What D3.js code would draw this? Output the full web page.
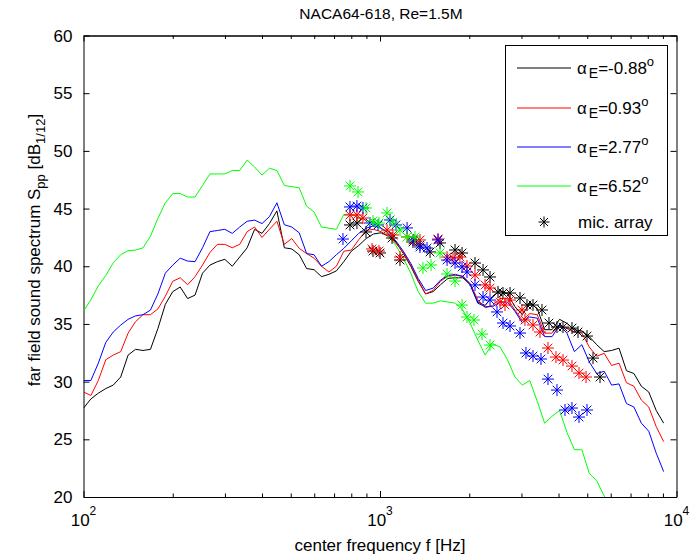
<!DOCTYPE html>
<html>
<head>
<meta charset="utf-8">
<script src="https://cdn.jsdelivr.net/npm/d3@7"></script>
<style>
body { margin: 0; background: #fff; }
text { font-family: "Liberation Sans", Arial, sans-serif; fill: #000; }
</style>
</head>
<body>
<div id="chart"></div>
<script>
// 1/12-octave band centre frequencies [Hz]
const freq = [100, 105.9, 112.2, 118.9, 126.0, 133.5, 141.4, 149.8, 158.7, 168.2,
  178.2, 188.8, 200, 211.9, 224.5, 237.8, 252.0, 267.0, 282.8, 299.7,
  317.5, 336.4, 356.4, 377.6, 400, 423.8, 449.0, 475.7, 504.0, 534.0,
  565.7, 599.3, 635.0, 672.7, 712.7, 755.1, 800, 847.6, 898.0, 951.4,
  1008, 1068, 1131, 1199, 1270, 1345, 1425, 1510, 1600, 1695,
  1796, 1903, 2016, 2136, 2263, 2397, 2540, 2691, 2851, 3020,
  3200, 3390, 3592, 3805, 4032, 4271, 4525, 4795, 5080, 5382,
  5702, 6041, 6400, 6781, 7184, 7611, 8063, 8543, 9051];

// far field spectra [dB], one per angle of attack
const sppM088 = [27.7, 28.5, 29.0, 29.4, 29.7, 30.4, 32.3, 32.8, 32.7, 32.8,
  34.6, 36.7, 37.8, 38.2, 37.2, 37.5, 39.4, 40.1, 40.4, 40.6,
  40.0, 40.8, 41.6, 43.2, 42.85, 43.7, 44.8, 41.6, 41.5, 41.0,
  39.8, 39.7, 39.1, 39.3, 39.6, 40.4, 41.3, 41.8, 42.4, 42.8,
  42.9, 42.6, 42.1, 41.1, 40.0, 38.7, 37.6, 37.8, 38.4, 38.95,
  39.0, 39.0, 38.4, 36.9, 36.6, 37.4, 37.9, 37.6, 36.5, 35.8,
  36.8, 36.35, 34.5, 34.5, 35.4, 35.05, 34.5, 34.4, 33.9, 33.2,
  32.6, 32.7, 32.9, 30.95, 30.7, 29.6, 29.1, 27.5, 26.4];
const spp093 = [29.1, 28.8, 30.1, 31.9, 32.3, 32.6, 34.2, 35.2, 35.8, 35.8,
  36.3, 37.4, 38.7, 39.0, 38.4, 39.1, 40.1, 41.2, 41.9, 41.9,
  41.6, 41.9, 43.0, 43.4, 42.5, 43.2, 43.9, 41.9, 42.4, 41.55,
  41.1, 40.7, 40.0, 39.5, 40.0, 41.3, 41.4, 42.3, 43.1, 43.2,
  43.0, 42.6, 42.0, 41.2, 40.1, 38.8, 37.6, 37.9, 38.7, 39.15,
  39.2, 39.15, 38.5, 37.1, 36.4, 36.6, 37.2, 37.2, 36.2, 35.3,
  35.9, 35.8, 34.2, 34.2, 34.9, 34.6, 34.3, 34.2, 33.0, 32.2,
  32.45, 31.4, 31.6, 29.9, 29.6, 28.4, 27.8, 26.1, 24.8];
const spp277 = [30.1, 30.1, 31.6, 33.4, 34.3, 34.9, 35.4, 35.7, 35.8, 36.2,
  37.6, 39.4, 40.1, 40.7, 40.45, 40.4, 41.6, 43.0, 43.1, 43.2,
  42.85, 43.4, 43.9, 44.0, 43.7, 44.3, 45.5, 43.6, 43.4, 42.9,
  41.1, 41.0, 40.0, 40.4, 41.0, 41.55, 42.2, 42.85, 43.3, 43.5,
  43.3, 42.9, 42.2, 41.3, 40.25, 38.95, 37.9, 38.1, 38.8, 39.2,
  39.3, 39.1, 38.4, 36.8, 36.5, 36.5, 36.9, 36.9, 36.1, 35.1,
  35.6, 35.5, 33.9, 33.9, 34.9, 34.2, 32.6, 33.2, 31.7, 30.7,
  30.9, 29.7, 29.8, 28.1, 27.8, 26.4, 25.7, 23.8, 22.2];
const spp652 = [36.1, 37.1, 38.3, 39.2, 40.3, 41.0, 41.35, 41.4, 41.6, 42.6,
  44.15, 45.5, 46.3, 46.3, 46.0, 46.0, 47.0, 48.0, 48.0, 48.0,
  48.3, 48.3, 49.2, 48.6, 47.9, 48.5, 48.3, 47.0, 46.9, 46.8,
  45.2, 44.7, 43.4, 43.3, 43.2, 44.5, 44.5, 44.2, 44.0, 43.7,
  43.3, 42.6, 41.8, 40.7, 39.4, 37.8, 36.8, 36.8, 37.0, 36.9,
  36.8, 36.2, 35.05, 33.6, 32.3, 33.3, 33.0, 31.9, 30.4, 29.7,
  30.1, 28.3, 26.4, 27.0, 27.5, 25.6, 24.1, 24.1, 22.05, 21.4,
  20.1, 19.0];

// microphone array results
const micFreqM088 = [792, 836, 897, 947, 1000, 1098, 1168, 1292, 1364, 1475, 1594, 1791, 1891,
  2091, 2226, 2350, 2500, 2599, 2745, 2966, 3131, 3281, 3518, 3715, 3953, 4142, 4441, 4654,
  4991, 5229, 5521];
const micM088 = [43.58, 43.75, 42.97, 41.32, 41.15, 42.45, 40.54, 42.10, 41.84, 41.24, 42.02, 41.41, 41.15,
  40.28, 39.68, 39.07, 37.77, 37.68, 37.68, 37.25, 36.64, 36.64, 36.21, 35.08, 34.73, 34.73, 34.64, 34.30,
  33.95, 32.04, 30.40];
const micFreq093 = [792, 836, 876, 940, 992, 1056, 1106, 1168, 1234, 1302, 1364, 1569, 1683, 1763,
  1861, 1965, 2091, 2261, 2350, 2540, 2640, 2745, 3012, 3083, 3281, 3464, 3686, 3922, 4142, 4441,
  4690, 4953];
const mic093 = [44.44, 44.44, 44.18, 41.50, 41.32, 43.14, 42.71, 40.80, 42.54, 42.28, 42.28, 42.36, 40.80, 40.71,
  40.80, 40.02, 39.24, 38.38, 38.11, 36.90, 36.64, 37.07, 36.21, 35.34, 34.91, 34.30, 32.91, 32.13, 31.87, 31.35,
  30.74, 30.40];
const micFreq277 = [750, 792, 836, 876, 925, 985, 1081, 1132, 1234, 1292, 1364, 1441, 1569, 1683,
  1791, 1891, 1965, 2091, 2226, 2350, 2481, 2599, 2745, 2966, 3107, 3281, 3491, 3686, 3953, 4207,
  4441, 4690, 4991];
const mic277 = [42.36, 45.14, 45.22, 45.05, 43.75, 43.58, 44.01, 43.58, 43.32, 42.28, 41.67, 41.58, 42.28, 40.54,
  40.28, 39.94, 39.50, 38.38, 37.33, 37.07, 36.04, 35.08, 34.82, 34.21, 32.48, 32.22, 31.96, 30.22, 29.27, 27.54,
  27.71, 26.93, 27.54];
const micFreq652 = [792, 843, 897, 947, 992, 1056, 1106, 1168, 1234, 1312, 1396, 1486, 1594, 1683,
  1791, 1891, 1965, 2075, 2208, 2350];
const mic652 = [46.96, 46.44, 45.05, 43.92, 43.75, 44.62, 43.83, 43.14, 42.54, 42.54, 39.85, 40.11, 41.15, 39.33,
  38.72, 36.64, 35.60, 35.34, 34.12, 33.17];

const legendLabels = ["-0.88", "0.93", "2.77", "6.52"];
const seriesColors = ["#000000", "#ff0000", "#0000ff", "#00ff00"];
const xMajor = [100, 1000, 10000];
const xExp = ["2", "3", "4"];
const yTicks = [20, 25, 30, 35, 40, 45, 50, 55, 60];

const W = 694, H = 556;
const L = 83.5, R = 676.5, T = 35.5, B = 497;
const fs = 17;

const svg = d3.select("#chart").append("svg")
  .attr("width", W).attr("height", H);

const x = d3.scaleLog().domain([100, 10000]).range([L, R]);
const y = d3.scaleLinear().domain([20, 60]).range([B, T]);

svg.append("defs").append("clipPath").attr("id", "clip")
  .append("rect").attr("x", L).attr("y", T).attr("width", R - L).attr("height", B - T);

// axes box with inward ticks
const xMinor = [];
[100, 1000].forEach(d => { for (let k = 2; k <= 9; k++) xMinor.push(d * k); });

function styleAxis(g) {
  g.selectAll("path, line").attr("stroke", "#000").attr("stroke-width", 1);
  g.selectAll("text").remove();
}

svg.append("g").attr("transform", `translate(0,${B})`)
  .call(d3.axisBottom(x).tickValues(xMajor).tickSizeInner(-6).tickSizeOuter(0)).call(styleAxis);
svg.append("g").attr("transform", `translate(0,${B})`)
  .call(d3.axisBottom(x).tickValues(xMinor).tickSizeInner(-3.5).tickSizeOuter(0)).call(styleAxis);
svg.append("g").attr("transform", `translate(0,${T})`)
  .call(d3.axisTop(x).tickValues(xMajor).tickSizeInner(-6).tickSizeOuter(0)).call(styleAxis);
svg.append("g").attr("transform", `translate(0,${T})`)
  .call(d3.axisTop(x).tickValues(xMinor).tickSizeInner(-3.5).tickSizeOuter(0)).call(styleAxis);
svg.append("g").attr("transform", `translate(${L},0)`)
  .call(d3.axisLeft(y).tickValues(yTicks).tickSizeInner(-6).tickSizeOuter(0)).call(styleAxis);
svg.append("g").attr("transform", `translate(${R},0)`)
  .call(d3.axisRight(y).tickValues(yTicks).tickSizeInner(-6).tickSizeOuter(0)).call(styleAxis);

// tick labels
svg.append("g").selectAll("text").data(yTicks).join("text")
  .attr("x", L - 11).attr("y", d => y(d) + 6)
  .attr("text-anchor", "end").attr("font-size", fs)
  .text(d => d);

const xl = svg.append("g").selectAll("text").data(xMajor).join("text")
  .attr("x", d => x(d)).attr("y", B + 29)
  .attr("text-anchor", "middle").attr("font-size", fs);
xl.append("tspan").text("10");
xl.append("tspan").attr("dy", -11).attr("font-size", 12).text((d, i) => xExp[i]);

// lines
const plot = svg.append("g").attr("clip-path", "url(#clip)");
const line = d3.line().x(d => x(d[0])).y(d => y(d[1]));
const spectra = [sppM088, spp093, spp277, spp652];
spectra.forEach((s, i) => {
  plot.append("path")
    .datum(s.map((v, j) => [freq[j], v]))
    .attr("fill", "none").attr("stroke", seriesColors[i]).attr("stroke-width", 1)
    .attr("d", line);
});

// asterisk markers
function star(cx, cy, r) {
  const d = r * 0.72;
  return `M${cx - r},${cy}h${2 * r}M${cx},${cy - r}v${2 * r}` +
    `M${cx - d},${cy - d}l${2 * d},${2 * d}M${cx - d},${cy + d}l${2 * d},${-2 * d}`;
}
const micF = [micFreqM088, micFreq093, micFreq277, micFreq652];
const micV = [micM088, mic093, mic277, mic652];
micV.forEach((vals, i) => {
  plot.append("g").selectAll("path")
    .data(vals.map((v, k) => [micF[i][k], v]))
    .join("path")
    .attr("d", d => star(x(d[0]), y(d[1]), 6))
    .attr("fill", "none").attr("stroke", seriesColors[i]).attr("stroke-width", 1);
});

// title and axis labels
svg.append("text").attr("x", (L + R) / 2 + 1).attr("y", 19)
  .attr("text-anchor", "middle").attr("font-size", 15.5)
  .text("NACA64-618, Re=1.5M");

svg.append("text").attr("x", (L + R) / 2).attr("y", 551)
  .attr("text-anchor", "middle").attr("font-size", fs)
  .text("center frequency f [Hz]");

const yl = svg.append("text")
  .attr("transform", `translate(40,250) rotate(-90)`)
  .attr("text-anchor", "middle").attr("font-size", fs);
yl.append("tspan").text("far field sound spectrum S");
yl.append("tspan").attr("dy", 5).attr("font-size", 13).text("pp");
yl.append("tspan").attr("dy", -5).text(" [dB");
yl.append("tspan").attr("dy", 5).attr("font-size", 13).text("1/12");
yl.append("tspan").attr("dy", -5).text("]");

// legend
const lg = svg.append("g");
lg.append("rect").attr("x", 505.5).attr("y", 45.5).attr("width", 162).attr("height", 190)
  .attr("fill", "#fff").attr("stroke", "#000").attr("stroke-width", 1);
const rowY = [68, 108, 147, 186];
legendLabels.forEach((lab, i) => {
  lg.append("line").attr("x1", 517).attr("x2", 571).attr("y1", rowY[i]).attr("y2", rowY[i])
    .attr("stroke", seriesColors[i]).attr("stroke-width", 1);
  const t = lg.append("text").attr("x", 577).attr("y", rowY[i] + 6).attr("font-size", fs);
  t.append("tspan").text("α");
  t.append("tspan").attr("dx", 2).attr("dy", 4).attr("font-size", 14).text("E");
  t.append("tspan").attr("dy", -4).text("=" + lab);
  t.append("tspan").attr("dy", -8).attr("font-size", 13).text("o");
});
lg.append("path").attr("d", star(544, 222, 5.5))
  .attr("fill", "none").attr("stroke", "#000").attr("stroke-width", 1);
lg.append("text").attr("x", 578).attr("y", 228).attr("font-size", fs).text("mic. array");
</script>
</body>
</html>
